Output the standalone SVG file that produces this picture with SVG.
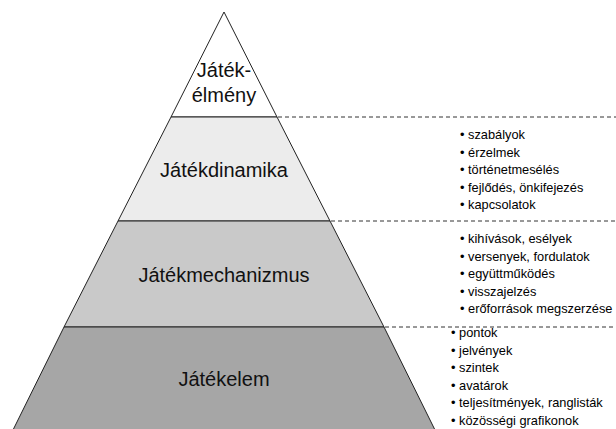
<svg xmlns="http://www.w3.org/2000/svg" width="616" height="429" viewBox="0 0 616 429">
<style>
.layer{stroke:#222;stroke-width:1}
.title{font-family:"Liberation Sans",Arial,sans-serif;font-size:20px;fill:#111;text-anchor:middle}
.item{font-family:"Liberation Sans",Arial,sans-serif;font-size:12.8px;fill:#000}
.dash{stroke:#333;stroke-width:1;stroke-dasharray:4 3;fill:none}
</style>
<rect width="616" height="429" fill="#fff"/>
<g id="layer-elmeny">
<polygon class="layer" points="224,12 171,117 277,117" fill="#ffffff"/>
<text class="title" x="224" y="77">Játék-</text>
<text class="title" x="224" y="102">élmény</text>
</g>
<g id="layer-dinamika">
<polygon class="layer" points="171,117 277,117 330,221 118,221" fill="#ececec"/>
<text class="title" x="224" y="177">Játékdinamika</text>
</g>
<g id="layer-mechanizmus">
<polygon class="layer" points="118,221 330,221 384,327 64,327" fill="#c9c9c9"/>
<text class="title" x="224" y="282">Játékmechanizmus</text>
</g>
<g id="layer-elem">
<polygon class="layer" points="64,327 384,327 436,432 12,432" fill="#a6a6a6"/>
<text class="title" x="224" y="386">Játékelem</text>
</g>
<g id="connectors">
<line class="dash" x1="278" y1="117" x2="616" y2="117"/>
<line class="dash" x1="331" y1="221" x2="616" y2="221"/>
<line class="dash" x1="385" y1="327" x2="616" y2="327"/>
</g>
<g id="list-dinamika" class="item">
<text x="460" y="139">• szabályok</text>
<text x="460" y="156.5">• érzelmek</text>
<text x="460" y="174">• történetmesélés</text>
<text x="460" y="191.5">• fejlődés,  önkifejezés</text>
<text x="460" y="209">• kapcsolatok</text>
</g>
<g id="list-mechanizmus" class="item">
<text x="460" y="243">• kihívások, esélyek</text>
<text x="460" y="260.5">• versenyek, fordulatok</text>
<text x="460" y="278">• együttműködés</text>
<text x="460" y="295.5">• visszajelzés</text>
<text x="460" y="313">• erőforrások megszerzése</text>
</g>
<g id="list-elem" class="item">
<text x="451" y="337">• pontok</text>
<text x="451" y="354.5">• jelvények</text>
<text x="451" y="372">• szintek</text>
<text x="451" y="389.5">• avatárok</text>
<text x="451" y="407">• teljesítmények, ranglisták</text>
<text x="451" y="424.5">• közösségi grafikonok</text>
</g>
</svg>
